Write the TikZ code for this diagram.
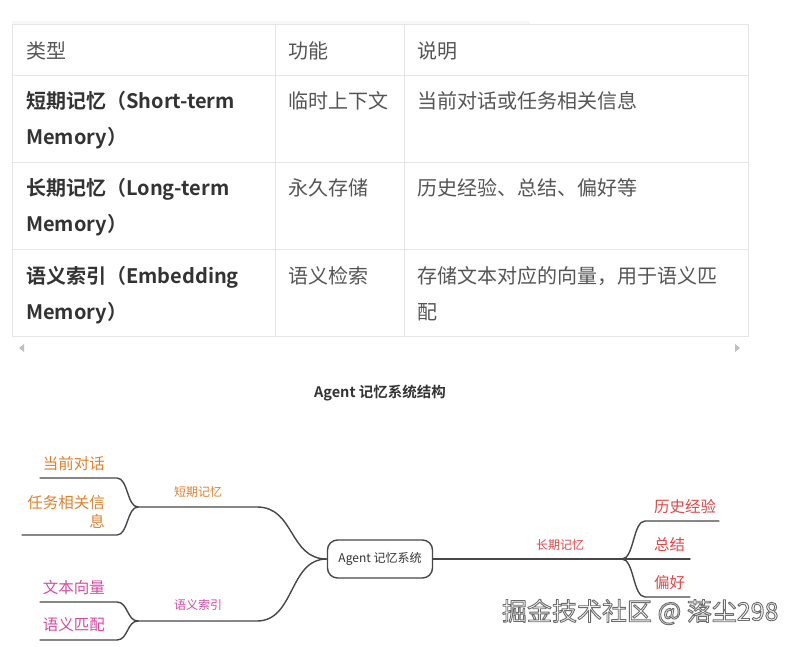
\documentclass[tikz,border=0pt]{standalone}
\usepackage{fontspec}
\setmainfont{Noto Sans CJK SC}[BoldFont={Noto Sans CJK SC Bold}]
\usetikzlibrary{positioning}

\definecolor{gridgray}{HTML}{E6E6E6}
\definecolor{headgray}{HTML}{555555}
\definecolor{typegray}{HTML}{333333}
\definecolor{bodygray}{HTML}{555555}
\definecolor{linegray}{HTML}{474747}
\definecolor{stcolor}{HTML}{DE8230}
\definecolor{ltcolor}{HTML}{E04848}
\definecolor{sicolor}{HTML}{D44CA0}

% outlined text: white fill, grey stroke
\newcommand\outlinetext[1]{{\color{white}\special{pdf:literal direct 0.42 G 0.9 w 2 Tr}#1\special{pdf:literal direct 0 Tr}}}

\tikzset{
  cellhead/.style={anchor=base west, inner sep=0pt, text=headgray},
  celltype/.style={anchor=base west, inner sep=0pt, align=left, text=typegray, font=\fontsize{20}{36}\selectfont\bfseries},
  celltext/.style={anchor=base west, inner sep=0pt, align=left, text=bodygray},
  branch/.style={draw=linegray, line width=1.4pt},
  leaf/.style={inner sep=0pt, font=\fontsize{15.5}{19}\selectfont},
  tag/.style={inner sep=0pt, font=\fontsize{12}{14}\selectfont},
  rootbox/.style={draw=linegray, line width=1.4pt, rounded corners=10pt, minimum width=105pt, minimum height=38pt, font=\fontsize{12}{14}\selectfont, text=typegray},
}

\begin{document}
\begin{tikzpicture}[x=1pt, y=-1pt, line join=round, line cap=round, font=\fontsize{20}{36}\selectfont]
  \useasboundingbox[fill=white] (0,0) rectangle (803,647);

  % table
  \fill[black!3] (12,21) rectangle (530,24);
  \draw[gridgray] (12,24) rectangle (748,336);
  \foreach \y in {75,162,249} {
    \draw[gridgray] (12,\y) -- (748,\y);
  }
  \foreach \x in {275,404} {
    \draw[gridgray] (\x,24) -- (\x,336);
  }

  % two-line cells sit on the baseline of their last line
  \node[cellhead] (h-type) at (26,59) {类型};
  \node[cellhead] (h-func) at (288,59) {功能};
  \node[cellhead] (h-desc) at (417,59) {说明};

  \node[celltype] (r1-type) at (26,145) {短期记忆（Short-term\\Memory）};
  \node[celltext] (r1-func) at (288,109) {临时上下文};
  \node[celltext] (r1-desc) at (417,109) {当前对话或任务相关信息};

  \node[celltype] (r2-type) at (26,232) {长期记忆（Long-term\\Memory）};
  \node[celltext] (r2-func) at (288,196) {永久存储};
  \node[celltext] (r2-desc) at (417,196) {历史经验、总结、偏好等};

  \node[celltype] (r3-type) at (26,319) {语义索引（Embedding\\Memory）};
  \node[celltext] (r3-func) at (288,283) {语义检索};
  \node[celltext] (r3-desc) at (417,319) {存储文本对应的向量，用于语义匹\\配};

  % scroll arrows
  \fill[black!25] (19,348) -- (24,344) -- (24,352) -- cycle;
  \fill[black!25] (740,348) -- (735,344) -- (735,352) -- cycle;

  % title
  \node[font=\fontsize{14.5}{16}\selectfont\bfseries, text=typegray] (title) at (380,393) {Agent 记忆系统结构};

  % mind map
  \node[rootbox] (root) at (380,559) {Agent 记忆系统};

  \coordinate (st-k) at (257,507);
  \coordinate (st-j) at (138,507);
  \coordinate (cur-k) at (117,478);
  \coordinate (cur-e) at (40,478);
  \coordinate (task-k) at (117,535);
  \coordinate (task-e) at (22,535);
  \draw[branch] (root.west) .. controls +(-38,0) and +(38,0) .. (st-k) -- (st-j);
  \draw[branch] (st-j) .. controls +(-11,0) and +(11,0) .. (cur-k) -- (cur-e);
  \draw[branch] (st-j) .. controls +(-11,0) and +(11,0) .. (task-k) -- (task-e);
  \node[tag, text=stcolor] (st-tag) at (198,492) {短期记忆};
  \node[leaf, text=stcolor, anchor=east] (cur) at (105,464) {当前对话};
  \node[leaf, text=stcolor, anchor=east, align=right] (task) at (105,512) {任务相关信\\息};

  \coordinate (si-k) at (257,621);
  \coordinate (si-j) at (138,621);
  \coordinate (vec-k) at (117,602);
  \coordinate (vec-e) at (40,602);
  \coordinate (match-k) at (117,640);
  \coordinate (match-e) at (40,640);
  \draw[branch] (root.west) .. controls +(-38,0) and +(38,0) .. (si-k) -- (si-j);
  \draw[branch] (si-j) .. controls +(-11,0) and +(11,0) .. (vec-k) -- (vec-e);
  \draw[branch] (si-j) .. controls +(-11,0) and +(11,0) .. (match-k) -- (match-e);
  \node[tag, text=sicolor] (si-tag) at (198,605) {语义索引};
  \node[leaf, text=sicolor, anchor=east] (vec) at (105,588) {文本向量};
  \node[leaf, text=sicolor, anchor=east] (match) at (105,625) {语义匹配};

  \coordinate (lt-j) at (622,559);
  \coordinate (hist-k) at (645,521);
  \coordinate (hist-e) at (719,521);
  \coordinate (sum-e) at (690,559);
  \coordinate (pref-k) at (645,597);
  \coordinate (pref-e) at (690,597);
  \draw[branch] (root.east) -- (lt-j);
  \draw[branch] (lt-j) .. controls +(12,0) and +(-12,0) .. (hist-k) -- (hist-e);
  \draw[branch] (lt-j) -- (sum-e);
  \draw[branch] (lt-j) .. controls +(12,0) and +(-12,0) .. (pref-k) -- (pref-e);
  \node[tag, text=ltcolor] (lt-tag) at (560,545) {长期记忆};
  \node[leaf, text=ltcolor, anchor=west] (hist) at (654,507) {历史经验};
  \node[leaf, text=ltcolor, anchor=west] (sum) at (654,545) {总结};
  \node[leaf, text=ltcolor, anchor=west] (pref) at (654,583) {偏好};

  % watermark
  \node[font=\fontsize{25}{28}\selectfont, anchor=east] (wm) at (782,612) {\outlinetext{掘金技术社区 @ 落尘298}};
\end{tikzpicture}
\end{document}
